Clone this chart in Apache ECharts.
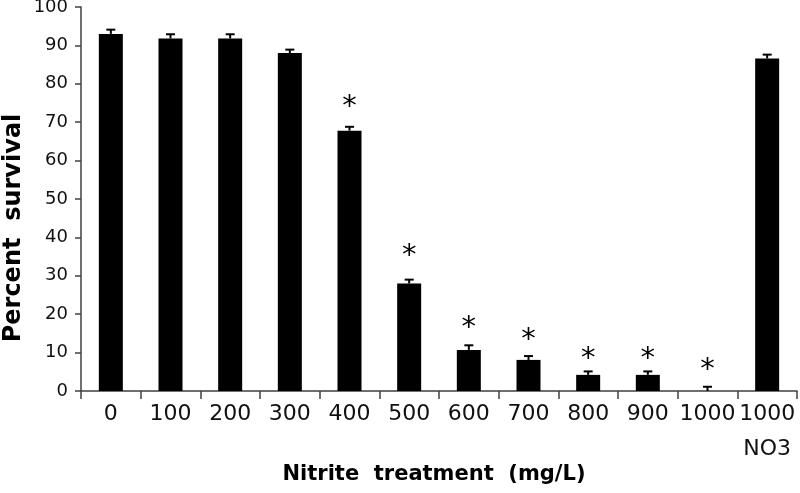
<!DOCTYPE html>
<html><head><meta charset="utf-8">
<script src="https://cdn.jsdelivr.net/npm/echarts@6/dist/echarts.min.js"></script>
<style>html,body{margin:0;padding:0;background:#fff}#c{width:800px;height:493px}</style>
</head><body><div id="c"></div>
<script>
var categories = ['0','100','200','300','400','500','600','700','800','900','1000','1000\nNO3'];
var survival = [93, 91.8, 91.8, 88, 67.8, 28, 10.7, 8.1, 4.2, 4.2, 0, 86.6];
var errors = [1.1, 1.1, 1.1, 0.9, 1.0, 1.0, 1.2, 1.0, 0.9, 0.9, 1.1, 1.0];
var significant = [0, 0, 0, 0, 1, 1, 1, 1, 1, 1, 1, 0];
var asteriskLevel = [0, 0, 0, 0, 75.3, 36.6, 17.8, 14.8, 9.8, 9.8, 7.0, 0];
var yTicks = [0, 10, 20, 30, 40, 50, 60, 70, 80, 90, 100];
var xTitle = 'Nitrite  treatment  (mg/L)';
var yTitle = 'Percent  survival';

var FONT = '"DejaVu Sans", "Noto Sans", sans-serif';
var chart = echarts.init(document.getElementById('c'), null, {renderer: 'canvas'});
var errData = categories.map(function (c, i) { return [i, survival[i], errors[i], significant[i], asteriskLevel[i]]; });

chart.setOption({
  animation: false,
  grid: {left: 81, right: 3, top: 7, bottom: 102, containLabel: false, outerBoundsMode: 'none'},
  graphic: [
    {type: 'text', x: 14, y: 228, rotation: Math.PI / 2,
      style: {text: yTitle, fontFamily: FONT, fontWeight: 'bold', fontSize: 24, fill: '#000', align: 'center', verticalAlign: 'middle'}},
    {type: 'text', x: 434, y: 475,
      style: {text: xTitle, fontFamily: FONT, fontWeight: 'bold', fontSize: 21, fill: '#000', align: 'center', verticalAlign: 'middle'}}
  ],
  xAxis: {
    type: 'category', data: categories,
    axisLine: {lineStyle: {color: '#404040', width: 1.5}},
    axisTick: {show: true, alignWithLabel: false, length: 8, lineStyle: {color: '#404040', width: 1.5}},
    axisLabel: {color: '#111', fontFamily: FONT, fontSize: 22, margin: 6, lineHeight: 35, interval: 0}
  },
  yAxis: {
    type: 'value', min: 0, max: 100, interval: 10,
    axisLine: {show: true, lineStyle: {color: '#404040', width: 1.5}},
    axisTick: {show: true, length: 6, lineStyle: {color: '#404040', width: 1.5}},
    axisLabel: {color: '#111', fontFamily: FONT, fontSize: 18, margin: 13,
      formatter: function (v) { return yTicks.indexOf(v) >= 0 ? String(v) : ''; }},
    splitLine: {show: false}
  },
  series: [
    {type: 'bar', data: survival, barWidth: 24, itemStyle: {color: '#000'}},
    {type: 'custom', data: errData, z: 5,
      renderItem: function (params, api) {
        var i = api.value(0), v = api.value(1), e = api.value(2), s = api.value(3), a = api.value(4);
        var base = api.coord([i, v]);
        var top = api.coord([i, v + e]);
        var children = [
          {type: 'line', shape: {x1: base[0], y1: base[1], x2: top[0], y2: top[1]}, style: {stroke: '#000', lineWidth: 2}},
          {type: 'line', shape: {x1: top[0] - 4.5, y1: top[1], x2: top[0] + 4.5, y2: top[1]}, style: {stroke: '#000', lineWidth: 2}}
        ];
        if (s) {
          var ap = api.coord([i, a]);
          children.push({type: 'text', x: ap[0], y: ap[1] + 6,
            style: {text: '*', fontSize: 29, fontFamily: FONT, fill: '#000', align: 'center', verticalAlign: 'middle'}});
        }
        return {type: 'group', children: children};
      }
    }
  ]
});
</script></body></html>
